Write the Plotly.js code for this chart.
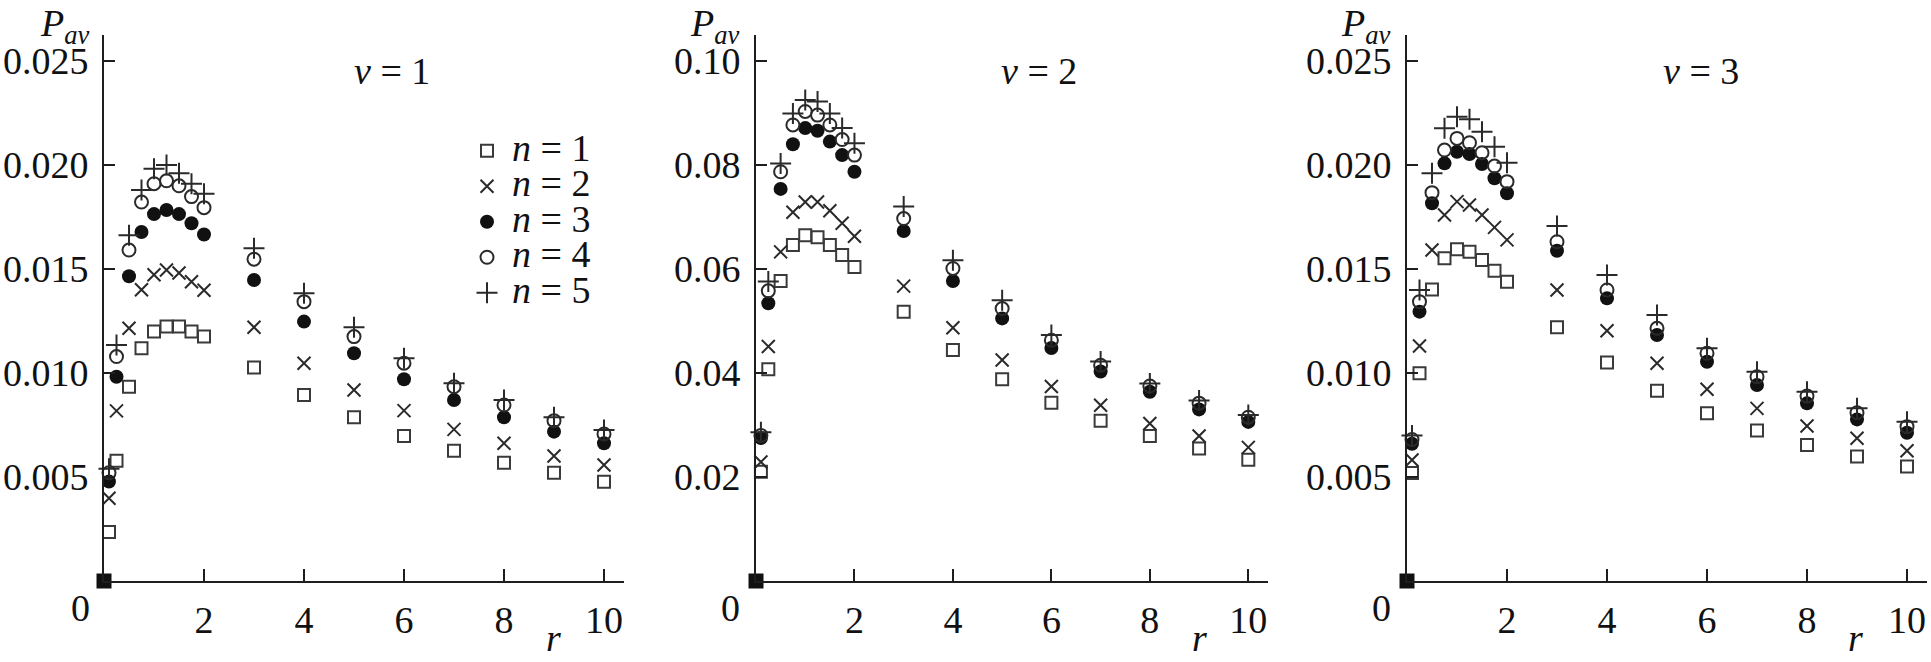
<!DOCTYPE html>
<html>
<head>
<meta charset="utf-8">
<script src="https://cdn.plot.ly/plotly-3.0.1.min.js"></script>
<style>
html,body{margin:0;padding:0;background:#fff;}
#chart{width:1931px;height:662px;}
</style>
</head>
<body>
<div id="chart"></div>
<script>
// ---------- data ----------
var r = [0.1, 0.25, 0.5, 0.75, 1, 1.25, 1.5, 1.75, 2, 3, 4, 5, 6, 7, 8, 9, 10];

// v = 1
var v1_n1 = [0.00235, 0.00578, 0.00934, 0.01119, 0.01199, 0.01223, 0.01223, 0.01199, 0.01175, 0.01027, 0.00894, 0.00787, 0.00697, 0.00626, 0.00569, 0.00521, 0.00477];
var v1_n2 = [0.00398, 0.00818, 0.01215, 0.01400, 0.01472, 0.01495, 0.01481, 0.01439, 0.01398, 0.01220, 0.01047, 0.00918, 0.00819, 0.00729, 0.00662, 0.00601, 0.00558];
var v1_n3 = [0.00478, 0.00982, 0.01465, 0.01678, 0.01764, 0.01784, 0.01764, 0.01720, 0.01666, 0.01447, 0.01247, 0.01095, 0.00970, 0.00870, 0.00787, 0.00718, 0.00662];
var v1_n4 = [0.00520, 0.01079, 0.01591, 0.01822, 0.01910, 0.01924, 0.01900, 0.01848, 0.01795, 0.01547, 0.01343, 0.01175, 0.01047, 0.00934, 0.00846, 0.00771, 0.00707];
var v1_n5 = [0.00540, 0.01135, 0.01662, 0.01880, 0.01982, 0.02000, 0.01960, 0.01910, 0.01862, 0.01600, 0.01383, 0.01220, 0.01071, 0.00951, 0.00870, 0.00787, 0.00726];

// v = 2
var v2_n1 = [0.0210, 0.0407, 0.0577, 0.0646, 0.0665, 0.0661, 0.0646, 0.0627, 0.0604, 0.0518, 0.0444, 0.0388, 0.0343, 0.0308, 0.0279, 0.0255, 0.0233];
var v2_n2 = [0.0229, 0.0451, 0.0633, 0.0709, 0.0729, 0.0729, 0.0712, 0.0688, 0.0663, 0.0567, 0.0487, 0.0425, 0.0374, 0.0338, 0.0303, 0.0279, 0.0257];
var v2_n3 = [0.0275, 0.0534, 0.0754, 0.0840, 0.0871, 0.0866, 0.0845, 0.0819, 0.0787, 0.0673, 0.0577, 0.0505, 0.0448, 0.0403, 0.0364, 0.0330, 0.0306];
var v2_n4 = [0.0280, 0.0558, 0.0787, 0.0877, 0.0903, 0.0896, 0.0877, 0.0849, 0.0819, 0.0697, 0.0601, 0.0524, 0.0463, 0.0415, 0.0375, 0.0342, 0.0315];
var v2_n5 = [0.0286, 0.0576, 0.0803, 0.0899, 0.0925, 0.0922, 0.0899, 0.0871, 0.0842, 0.0720, 0.0617, 0.0540, 0.0473, 0.0422, 0.0380, 0.0347, 0.0319];

// v = 3
var v3_n1 = [0.00519, 0.00999, 0.01402, 0.01552, 0.01595, 0.01583, 0.01543, 0.01492, 0.01439, 0.01220, 0.01050, 0.00915, 0.00806, 0.00723, 0.00654, 0.00598, 0.00550];
var v3_n2 = [0.00582, 0.01130, 0.01591, 0.01760, 0.01824, 0.01808, 0.01760, 0.01700, 0.01640, 0.01399, 0.01203, 0.01047, 0.00922, 0.00830, 0.00745, 0.00686, 0.00626];
var v3_n3 = [0.00660, 0.01295, 0.01816, 0.02008, 0.02064, 0.02053, 0.02005, 0.01936, 0.01864, 0.01588, 0.01359, 0.01183, 0.01054, 0.00942, 0.00854, 0.00777, 0.00713];
var v3_n4 = [0.00680, 0.01343, 0.01867, 0.02072, 0.02128, 0.02107, 0.02059, 0.01995, 0.01920, 0.01631, 0.01399, 0.01215, 0.01095, 0.00982, 0.00889, 0.00809, 0.00742];
var v3_n5 = [0.00700, 0.01399, 0.01960, 0.02177, 0.02232, 0.02220, 0.02160, 0.02088, 0.02011, 0.01707, 0.01471, 0.01279, 0.01119, 0.01006, 0.00910, 0.00830, 0.00766];

var origin = {x: [0], y: [0]};

var nLabels = ['1', '2', '3', '4', '5'];
var panelLabels = ['1', '2', '3'];
var xTickVals = [2, 4, 6, 8, 10];
var yTickVals1 = [0.005, 0.010, 0.015, 0.020, 0.025];
var yTickVals2 = [0.02, 0.04, 0.06, 0.08, 0.10];
var yTickVals3 = [0.005, 0.010, 0.015, 0.020, 0.025];

// ---------- styles ----------
var W = 1931, H = 662;
function px(x) { return x / W; }
function py(y) { return (H - y) / H; }

var FAMILY = 'Liberation Serif';
var INK = '#1e1e1e';
var markerStyles = [
  {symbol: 'square-open', size: 12, color: '#3a3a3a', line: {width: 2, color: '#3a3a3a'}},
  {symbol: 'x-thin-open', size: 13, color: '#2a2a2a', line: {width: 2, color: '#2a2a2a'}},
  {symbol: 'circle', size: 14, color: '#111', line: {width: 0}},
  {symbol: 'circle-open', size: 13, color: '#2a2a2a', line: {width: 2, color: '#2a2a2a'}},
  {symbol: 'cross-thin-open', size: 15, color: '#2a2a2a', line: {width: 2, color: '#2a2a2a'}}
];

var panels = [
  {xa: 'x', ya: 'y', series: [v1_n1, v1_n2, v1_n3, v1_n4, v1_n5], legend: true},
  {xa: 'x2', ya: 'y2', series: [v2_n1, v2_n2, v2_n3, v2_n4, v2_n5], legend: false},
  {xa: 'x3', ya: 'y3', series: [v3_n1, v3_n2, v3_n3, v3_n4, v3_n5], legend: false}
];

var traces = [];
panels.forEach(function (p) {
  p.series.forEach(function (vals, i) {
    traces.push({
      type: 'scatter', mode: 'markers',
      x: r, y: vals, xaxis: p.xa, yaxis: p.ya,
      name: '<span style="font-size:38px"><i>n</i> = ' + nLabels[i] + '</span>',
      showlegend: p.legend,
      marker: markerStyles[i],
      cliponaxis: false,
      hoverinfo: 'x+y'
    });
  });
  traces.push({
    type: 'scatter', mode: 'markers', x: origin.x, y: origin.y,
    xaxis: p.xa, yaxis: p.ya, showlegend: false, cliponaxis: false,
    marker: {symbol: 'square', size: 15, color: '#111'}
  });
});

// panel pixel geometry (axis line positions)
var geo = [
  {x0: 104, x1: 624},
  {x0: 756, x1: 1268},
  {x0: 1407, x1: 1927}
];
var yTop = 35, yBot = 581;

function xaxisDef(g, anchor) {
  return {
    domain: [px(g.x0), px(g.x1)], anchor: anchor, range: [0, 10.4],
    showline: true, linecolor: INK, linewidth: 2,
    ticks: 'inside', ticklen: 12, tickwidth: 2, tickcolor: INK,
    tickvals: xTickVals, ticktext: xTickVals.map(String),
    showgrid: false, zeroline: false, ticklabelstandoff: 4,
    tickfont: {size: 38, family: FAMILY}
  };
}
function yaxisDef(anchor, vals, fmt, top) {
  return {
    domain: [py(yBot), py(yTop)], anchor: anchor, range: [0, top],
    showline: true, linecolor: INK, linewidth: 2,
    ticks: 'inside', ticklen: 11, tickwidth: 2, tickcolor: INK,
    tickvals: vals, ticktext: vals.map(function (v) { return v.toFixed(fmt); }),
    showgrid: false, zeroline: false, ticklabelstandoff: 6,
    tickfont: {size: 38, family: FAMILY}
  };
}

var ann = [];
var pavX = [38, 688, 1339];
var vX = [392, 1039, 1701];
var rX = [553, 1199, 1855];
var zeroX = [80, 730, 1381];
for (var k = 0; k < 3; k++) {
  ann.push({xref: 'paper', yref: 'paper', x: px(pavX[k]), y: py(0), xanchor: 'left', yanchor: 'top',
    text: '<i>P</i><sub><i>av</i></sub>', showarrow: false, font: {size: 38, family: FAMILY}});
  ann.push({xref: 'paper', yref: 'paper', x: px(vX[k]), y: py(71), xanchor: 'center', yanchor: 'middle',
    text: '<i>v</i> = ' + panelLabels[k], showarrow: false, font: {size: 38, family: FAMILY}});
  ann.push({xref: 'paper', yref: 'paper', x: px(rX[k]), y: py(638), xanchor: 'center', yanchor: 'middle',
    text: '<i>r</i>', showarrow: false, font: {size: 38, family: FAMILY}});
  ann.push({xref: 'paper', yref: 'paper', x: px(zeroX[k]), y: py(608), xanchor: 'center', yanchor: 'middle',
    text: '0', showarrow: false, font: {size: 38, family: FAMILY}});
}

var layout = {
  width: W, height: H,
  margin: {l: 0, r: 0, t: 0, b: 0, pad: 0},
  paper_bgcolor: '#fff', plot_bgcolor: 'rgba(0,0,0,0)',
  font: {family: FAMILY, size: 38, color: '#111111'},
  showlegend: true,
  legend: {
    x: px(462), y: py(128), xanchor: 'left', yanchor: 'top',
    font: {size: 25, family: FAMILY},
    itemwidth: 40, bgcolor: 'rgba(0,0,0,0)', borderwidth: 0, tracegroupgap: 0
  },
  xaxis: xaxisDef(geo[0], 'y'),
  xaxis2: xaxisDef(geo[1], 'y2'),
  xaxis3: xaxisDef(geo[2], 'y3'),
  yaxis: yaxisDef('x', yTickVals1, 3, 0.02625),
  yaxis2: yaxisDef('x2', yTickVals2, 2, 0.105),
  yaxis3: yaxisDef('x3', yTickVals3, 3, 0.02625),
  annotations: ann
};

Plotly.newPlot('chart', traces, layout, {displayModeBar: false, staticPlot: true});
</script>
</body>
</html>
